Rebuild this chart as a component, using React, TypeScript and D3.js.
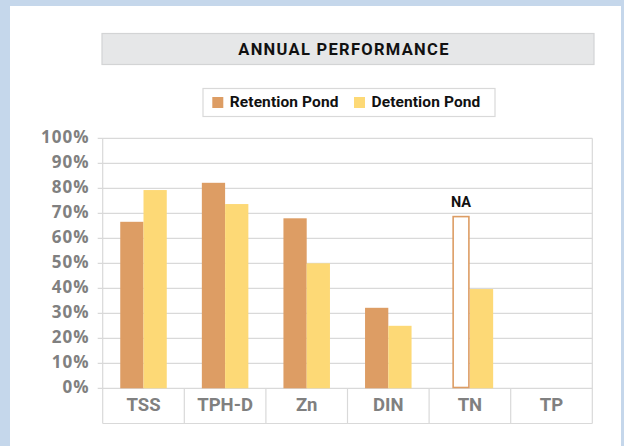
import React from "react";
import * as d3 from "d3";

const categories = ["TSS", "TPH-D", "Zn", "DIN", "TN", "TP"];
const seriesNames = ["Retention Pond", "Detention Pond"];
const retention: (number | null)[] = [66.6, 82.2, 68, 32.2, null, null];
const detention: (number | null)[] = [79.3, 73.7, 50, 25, 39.7, null];
const naPlaceholder: (number | null)[] = [null, null, null, null, 69, null];
const yTicks = [0, 10, 20, 30, 40, 50, 60, 70, 80, 90, 100];
const colors = ["#DD9D64", "#FDD976"];

const W = 624;
const H = 446;
const plot = { left: 102.7, right: 592.3, top: 138.3, bottom: 388.3, axisBottom: 423.5 };

export default function App() {
  const x0 = d3.scaleBand<string>().domain(categories).range([plot.left, plot.right]).padding(0);
  const bw = x0.bandwidth();
  const x1 = d3.scaleBand<string>().domain(seriesNames).range([bw * 0.215, bw * 0.785]).padding(0);
  const y = d3.scaleLinear().domain([0, 100]).range([plot.bottom, plot.top]);
  const grid = "#D9D9D9";
  const tickFont = "'Open Sans', sans-serif";
  const labFont = "Roboto, sans-serif";

  return (
    <svg width={W} height={H} style={{ position: "absolute", left: 0, top: 0 }}>
      <rect x={0} y={0} width={W} height={H} fill="#C5D7EB" />
      <rect x={10} y={6} width={611} height={H} fill="#FFFFFF" />

      {/* Title */}
      <rect x={102} y={33.5} width={492} height={31} fill="#E6E7E8" stroke="#D3D4D5" strokeWidth={1.2} />
      <text x={344} y={50.5} textAnchor="middle" dominantBaseline="middle" fontFamily={labFont} fontWeight={700} fontSize={16.5} letterSpacing={1.3} fill="#111">
        ANNUAL PERFORMANCE
      </text>

      {/* Legend */}
      <rect x={203} y={88.5} width={292} height={28} fill="#fff" stroke="#D9D9D9" strokeWidth={1.2} />
      {seriesNames.map((s, i) => {
        const lx = [212.3, 354][i];
        return (
          <g key={s}>
            <rect x={lx} y={97} width={11} height={11} fill={colors[i]} />
            <text x={lx + 17.5} y={103} dominantBaseline="middle" fontFamily={labFont} fontWeight={700} fontSize={15.5} letterSpacing={0.1} fill="#111">
              {s}
            </text>
          </g>
        );
      })}

      {/* Gridlines */}
      {yTicks.map((t) => (
        <g key={t}>
          <line x1={plot.left - 5} x2={plot.right} y1={y(t)} y2={y(t)} stroke={grid} strokeWidth={1.2} />
          <text x={89.5} y={y(t)} textAnchor="end" dominantBaseline="middle" fontFamily={tickFont} fontWeight={700} fontSize={17} letterSpacing={1} fill="#808080">
            {t}%
          </text>
        </g>
      ))}

      {/* Axis frame */}
      <line x1={plot.left} x2={plot.left} y1={plot.top} y2={plot.axisBottom} stroke={grid} strokeWidth={1.2} />
      <line x1={plot.right} x2={plot.right} y1={plot.top} y2={plot.axisBottom} stroke={grid} strokeWidth={1.2} />
      <line x1={plot.left} x2={plot.right} y1={plot.axisBottom} y2={plot.axisBottom} stroke={grid} strokeWidth={1.2} />
      {categories.slice(1).map((c) => (
        <line key={c} x1={x0(c)!} x2={x0(c)!} y1={plot.bottom} y2={plot.axisBottom} stroke={grid} strokeWidth={1.2} />
      ))}

      {/* Bars */}
      {categories.map((c, i) => {
        const bx = x0(c)!;
        const vals = [retention[i], detention[i]];
        return (
          <g key={c}>
            {vals.map((v, j) =>
              v == null ? null : (
                <rect key={j} x={bx + x1(seriesNames[j])!} y={y(v)} width={x1.bandwidth()} height={y(0) - y(v)} fill={colors[j]} />
              )
            )}
            {naPlaceholder[i] != null && (
              <g>
                <rect
                  x={bx + x1(seriesNames[0])! + 6.5}
                  y={y(naPlaceholder[i]!) + 0.8}
                  width={x1.bandwidth() - 7.5}
                  height={y(0) - y(naPlaceholder[i]!) - 1.6}
                  fill="#fff"
                  stroke={colors[0]}
                  strokeWidth={1.6}
                />
                <text x={bx + x1(seriesNames[0])! + 6.5 + (x1.bandwidth() - 7.5) / 2} y={y(naPlaceholder[i]!) - 13} textAnchor="middle" dominantBaseline="middle" fontFamily={labFont} fontWeight={700} fontSize={14.5} fill="#111">
                  NA
                </text>
              </g>
            )}
            <text x={bx + bw / 2} y={406} textAnchor="middle" dominantBaseline="middle" fontFamily={labFont} fontWeight={700} fontSize={18.5} fill="#808080">
              {c}
            </text>
          </g>
        );
      })}
    </svg>
  );
}
